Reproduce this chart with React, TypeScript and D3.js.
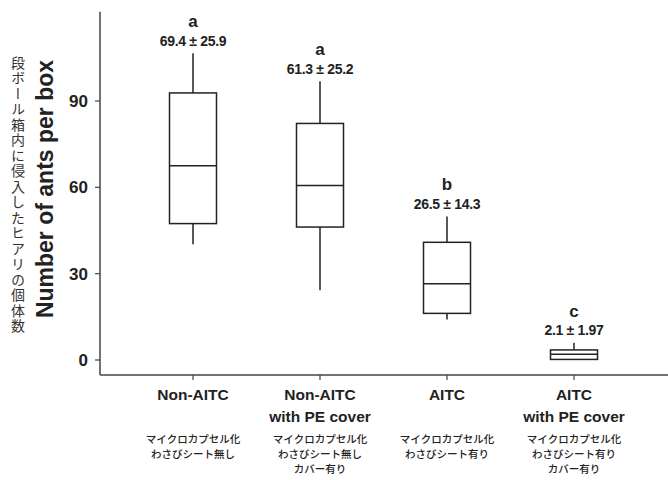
import * as d3 from "d3";

const categories = ["Non-AITC", "Non-AITC PE", "AITC", "AITC PE"];
const labelEn = [["Non-AITC"], ["Non-AITC", "with PE cover"], ["AITC"], ["AITC", "with PE cover"]];
const labelJa = [
  ["マイクロカプセル化", "わさびシート無し"],
  ["マイクロカプセル化", "わさびシート無し", "カバー有り"],
  ["マイクロカプセル化", "わさびシート有り"],
  ["マイクロカプセル化", "わさびシート有り", "カバー有り"],
];
const whiskerLow = [40.2, 24.2, 14.1, 0];
const q1 = [47.4, 46.2, 16.2, 0.2];
const median = [67.5, 60.6, 26.5, 2.0];
const q3 = [92.8, 82.2, 40.9, 3.5];
const whiskerHigh = [106.6, 96.9, 49.9, 6.0];
const letters = ["a", "a", "b", "c"];
const stats = ["69.4 ± 25.9", "61.3 ± 25.2", "26.5 ± 14.3", "2.1 ± 1.97"];
const yTicks = [0, 30, 60, 90];

const W = 668;
const H = 480;
const font = "'Liberation Sans', Arial, Helvetica, sans-serif";
const jaFont = "'Noto Sans CJK JP', sans-serif";
const ink = "#222";

const y = d3.scaleLinear().domain([0, 90]).range([360, 101]);
const x = d3.scalePoint<string>().domain(categories).range([193, 574]);
const axisX = 100;
const axisY = y(-5.2);
const axisTop = y(121);
const boxW = 47;

export default function App() {
  return (
    <svg width={W} height={H} style={{ position: "absolute", left: 0, top: 0, background: "#fff" }}>
      {/* axes */}
      <line x1={axisX} x2={axisX} y1={axisTop} y2={axisY} stroke="#444" strokeWidth={1.5} />
      <line x1={axisX} x2={W} y1={axisY} y2={axisY} stroke="#444" strokeWidth={1.5} />
      {yTicks.map((t) => (
        <g key={t}>
          <line x1={axisX - 5} x2={axisX} y1={y(t)} y2={y(t)} stroke="#444" strokeWidth={1.2} />
          <text x={88} y={y(t)} dy="0.35em" textAnchor="end" fontFamily={font} fontWeight="bold" fontSize={17} fill={ink}>
            {t}
          </text>
        </g>
      ))}
      {categories.map((c) => (
        <line key={c} x1={x(c)} x2={x(c)} y1={axisY} y2={axisY + 5} stroke="#444" strokeWidth={1.2} />
      ))}

      {/* axis titles */}
      <text transform={`translate(45,189) rotate(-90)`} textAnchor="middle" dy="0.35em" fontFamily={font} fontSize={23} fontWeight="bold" fill={ink}>
        Number of ants per box
      </text>
      <text x={18} y={195} textAnchor="middle" fontFamily={jaFont} fontSize={14} letterSpacing={1.5} fill="#333" style={{ writingMode: "vertical-rl" }}>
        段ボール箱内に侵入したヒアリの個体数
      </text>

      {/* boxes */}
      {categories.map((c, i) => {
        const cx = x(c)!;
        return (
          <g key={c} stroke={ink} strokeWidth={1.5} fill="none">
            <line x1={cx} x2={cx} y1={y(whiskerHigh[i])} y2={y(q3[i])} />
            <line x1={cx} x2={cx} y1={y(q1[i])} y2={y(whiskerLow[i])} />
            <rect x={cx - boxW / 2} y={y(q3[i])} width={boxW} height={y(q1[i]) - y(q3[i])} fill="#fff" />
            <line x1={cx - boxW / 2} x2={cx + boxW / 2} y1={y(median[i])} y2={y(median[i])} />
          </g>
        );
      })}

      {/* significance letters and stats */}
      {categories.map((c, i) => {
        const top = y(whiskerHigh[i]);
        return (
          <g key={c} fontFamily={font} fontWeight="bold" fill={ink} textAnchor="middle">
            <text x={x(c)} y={top - 12.5} dy="0.35em" fontSize={14} letterSpacing={-0.3}>
              {stats[i]}
            </text>
            <text x={x(c)} y={top - 32} dy="0.35em" fontSize={17}>
              {letters[i]}
            </text>
          </g>
        );
      })}

      {/* x labels */}
      {categories.map((c, i) => (
        <g key={c} textAnchor="middle" fill={ink}>
          <text x={x(c)} y={395} dy="0.35em" fontFamily={font} fontWeight="bold" fontSize={15.5}>
            {labelEn[i].map((l, j) => (
              <tspan key={j} x={x(c)} dy={j === 0 ? "0.35em" : 22}>
                {l}
              </tspan>
            ))}
          </text>
          <text x={x(c)} y={439} fontFamily={jaFont} fontSize={10.5} fontWeight={500}>
            {labelJa[i].map((l, j) => (
              <tspan key={j} x={x(c)} dy={j === 0 ? "0.35em" : 15.2}>
                {l}
              </tspan>
            ))}
          </text>
        </g>
      ))}
    </svg>
  );
}
